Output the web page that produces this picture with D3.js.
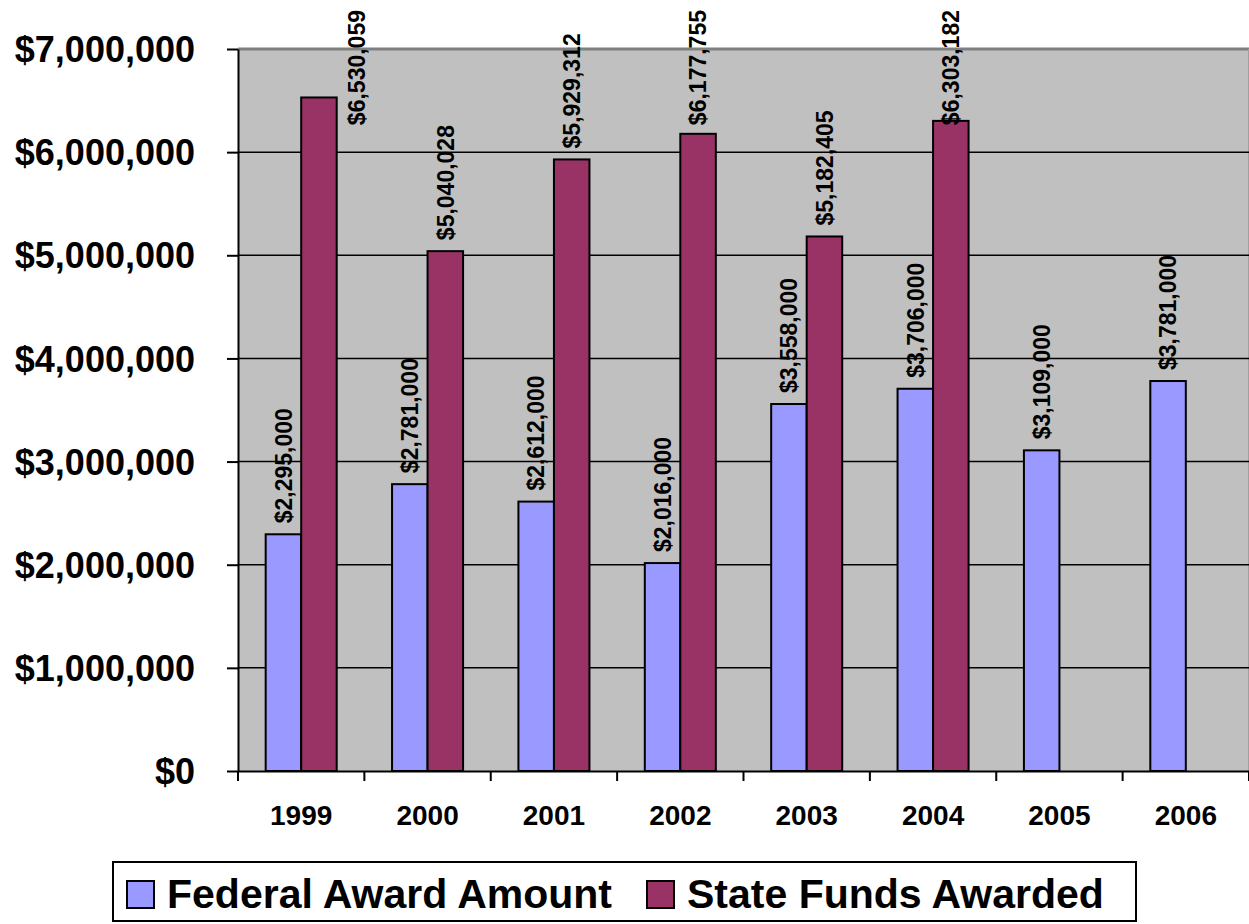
<!DOCTYPE html>
<html>
<head>
<meta charset="utf-8">
<script src="https://cdn.jsdelivr.net/npm/d3@7"></script>
<style>
  body { margin: 0; background: #fff; }
  text { font-family: "Liberation Sans", Arial, sans-serif; font-weight: bold; fill: #000; }
</style>
</head>
<body>
<div id="chart"></div>
<script>
const years = ['1999', '2000', '2001', '2002', '2003', '2004', '2005', '2006']
const federal = [2295000, 2781000, 2612000, 2016000, 3558000, 3706000, 3109000, 3781000]
const state = [6530059, 5040028, 5929312, 6177755, 5182405, 6303182, null, null]
const yTicks = [0, 1000000, 2000000, 3000000, 4000000, 5000000, 6000000, 7000000]
const seriesNames = ['Federal Award Amount', 'State Funds Awarded']

const colors = { federal: '#9999ff', state: '#993366' }
const fontFamily = '"Liberation Sans", Arial, sans-serif'

const margin = { top: 49, right: 0, bottom: 153, left: 238 }
const width = 1249 - margin.left - margin.right,
      height = 924 - margin.top - margin.bottom

const fmt = d3.format('$,.0f')

const x0 = d3.scaleBand().domain(years).range([0, width])
const bw = x0.bandwidth()
const x1 = d3.scaleBand().domain(['federal', 'state'])
  .range([bw * 0.219, bw * 0.781])
const y = d3.scaleLinear().domain([0, 7000000]).range([height, 0])

const svg = d3.select('#chart').append('svg')
  .attr('width', 1249).attr('height', 924)

const g = svg.append('g')
  .attr('transform', 'translate(' + margin.left + ', ' + margin.top + ')')

// plot area
g.append('rect')
  .attr('width', width).attr('height', height)
  .style('fill', '#c0c0c0')
g.append('line')
  .attr('x1', 0).attr('x2', width).attr('y1', 0).attr('y2', 0)
  .style('stroke', '#808080').style('stroke-width', 3)
g.append('line')
  .attr('x1', width - 0.5).attr('x2', width - 0.5).attr('y1', 0).attr('y2', height)
  .style('stroke', '#a0a0a0').style('stroke-width', 1)

// gridlines
g.selectAll('.grid').data(yTicks.filter(d => d > 0 && d < 7000000)).enter()
  .append('line').classed('grid', true)
  .attr('x1', 0).attr('x2', width)
  .attr('y1', d => y(d)).attr('y2', d => y(d))
  .style('stroke', '#000').style('stroke-width', 1.5)

const rows = years.map((yr, i) => ({ year: yr, federal: federal[i], state: state[i] }))
const bars = []
rows.forEach(r => {
  ['federal', 'state'].forEach(k => {
    if (r[k] != null) bars.push({ year: r.year, key: k, value: r[k] })
  })
})

g.selectAll('.bar').data(bars).enter()
  .append('rect').classed('bar', true)
  .attr('x', d => x0(d.year) + x1(d.key))
  .attr('y', d => y(d.value))
  .attr('width', x1.bandwidth())
  .attr('height', d => height - y(d.value))
  .style('fill', d => colors[d.key])
  .style('stroke', '#000').style('stroke-width', 2)

// axes
const yAxis = d3.axisLeft(y).tickValues(yTicks).tickFormat(fmt)
  .tickSize(11).tickSizeOuter(0).tickPadding(32)
const ya = g.append('g').call(yAxis)
ya.selectAll('text').style('font-size', '36px').style('font-family', fontFamily)
  .style('font-weight', 'bold').attr('dy', '0.35em')
ya.selectAll('line, path').style('stroke', '#000').style('stroke-width', 2)

const xAxis = d3.axisBottom(x0).tickSize(0).tickSizeOuter(0)
const xa = g.append('g').attr('transform', 'translate(0, ' + height + ')').call(xAxis)
xa.selectAll('text').style('font-size', '28px').style('font-family', fontFamily)
  .style('font-weight', 'bold').attr('y', 54).attr('dy', 0)
xa.select('path').style('stroke', '#000').style('stroke-width', 2)
xa.selectAll('.xtick').data(years.map(d => x0(d)).concat([width])).enter()
  .append('line').classed('xtick', true)
  .attr('x1', d => d).attr('x2', d => d).attr('y1', 0).attr('y2', 10)
  .style('stroke', '#000').style('stroke-width', 2)

// data labels
const labelGap = 11, labelTop = 10 - margin.top
g.selectAll('.label').data(bars).enter()
  .append('text').classed('label', true)
  .style('font-size', '23px').style('font-family', fontFamily).style('font-weight', 'bold')
  .text(d => fmt(d.value))
  .each(function (d) {
    const len = this.getComputedTextLength()
    const top = y(d.value)
    let cx = x0(d.year) + x1(d.key) + x1.bandwidth() / 2
    let end = top - labelGap
    if (end - len < labelTop) {
      end = labelTop + len
      if (end - top > 15) cx += x1.bandwidth() + 2
    }
    d3.select(this)
      .attr('transform', 'translate(' + cx + ', ' + end + ') rotate(-90)')
      .attr('dy', '0.36em')
  })

// legend
const legend = svg.append('g').attr('transform', 'translate(113, 862)')
legend.append('rect')
  .attr('width', 1023).attr('height', 59)
  .style('fill', '#fff').style('stroke', '#000').style('stroke-width', 2)
const items = [
  { name: seriesNames[0], color: colors.federal, x: 14 },
  { name: seriesNames[1], color: colors.state, x: 534 }
]
const li = legend.selectAll('.item').data(items).enter()
  .append('g').classed('item', true)
  .attr('transform', d => 'translate(' + d.x + ', 0)')
li.append('rect')
  .attr('y', 19).attr('width', 27).attr('height', 27)
  .style('fill', d => d.color).style('stroke', '#000').style('stroke-width', 2)
li.append('text')
  .attr('x', 40).attr('y', 46)
  .style('font-size', '41px').style('font-family', fontFamily).style('font-weight', 'bold')
  .text(d => d.name)
</script>
</body>
</html>
